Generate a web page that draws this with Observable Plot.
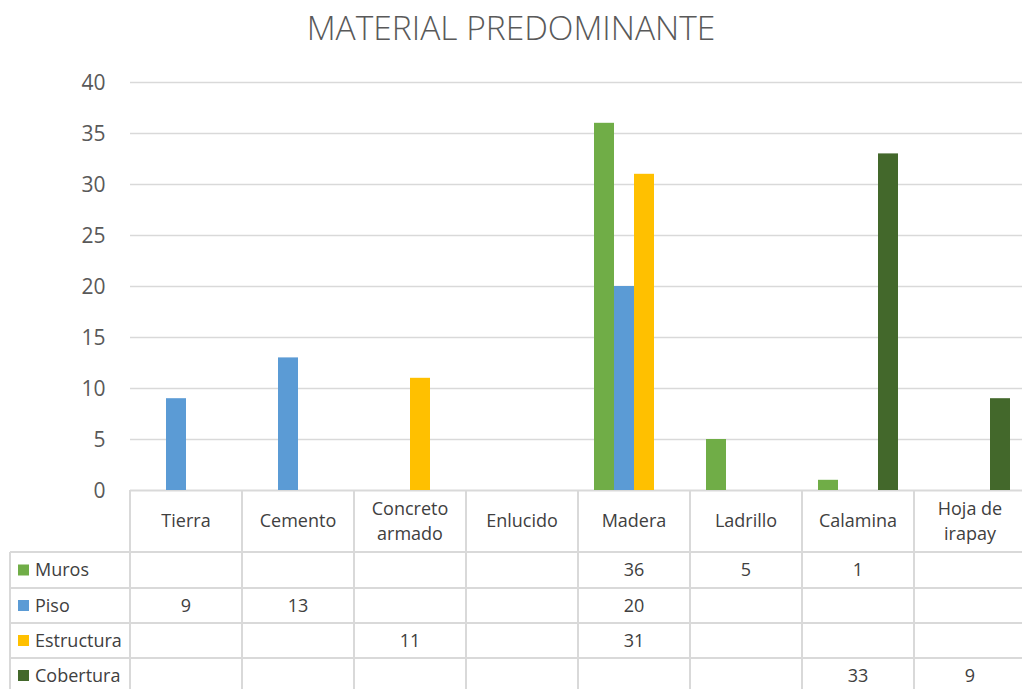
<!DOCTYPE html>
<html><head><meta charset="utf-8">
<script src="https://cdn.jsdelivr.net/npm/d3@7"></script>
<script src="https://cdn.jsdelivr.net/npm/@observablehq/plot@0.6"></script>
<style>
html,body{margin:0;padding:0;background:#fff;overflow:hidden;}
#wrap{position:relative;width:1022px;height:689px;overflow:hidden;font-family:"Open Sans",sans-serif;}
#title{position:absolute;left:0;top:11px;width:1022px;text-align:center;font-size:33.5px;line-height:32px;font-weight:300;color:#595959;white-space:nowrap;}
#chart{position:absolute;left:0;top:0;width:1026px;}
#chart svg{max-width:none !important;}
#table{position:absolute;left:0;top:0;}
</style>
</head><body>
<div id="wrap"><div id="chart"></div><div id="table"></div><div id="title">MATERIAL PREDOMINANTE</div></div>
<script>
const categories = ["Tierra","Cemento","Concreto armado","Enlucido","Madera","Ladrillo","Calamina","Hoja de irapay"];
const headerLabels = ["Tierra","Cemento","Concreto\narmado","Enlucido","Madera","Ladrillo","Calamina","Hoja de\nirapay"];
const seriesNames = ["Muros","Piso","Estructura","Cobertura"];
const seriesColors = ["#70AD47","#5B9BD5","#FFC000","#43682B"];
const muros      = [null,null,null,null,36,5,1,null];
const piso       = [9,13,null,null,20,null,null,null];
const estructura = [null,null,11,null,31,null,null,null];
const cobertura  = [null,null,null,null,null,null,33,9];
const yTicks = [0,5,10,15,20,25,30,35,40];

const seriesValues = [muros, piso, estructura, cobertura];
const rows = seriesNames.flatMap((s, si) => categories.map((c, ci) => ({series: s, category: c, value: seriesValues[si][ci]})))
  .filter(d => d.value != null);

const W = 1026, PLOT_TOP = 82, AXIS_Y = 490, LEFT = 130;
const chart = Plot.plot({
  width: W, height: 552, marginTop: PLOT_TOP, marginBottom: 552 - AXIS_Y, marginLeft: LEFT, marginRight: 0,
  style: {fontFamily: '"Open Sans", sans-serif', fontSize: "21px", color: "#595959", background: "transparent", overflow: "visible", maxWidth: "none"},
  fx: {domain: categories, padding: 0, round: false, axis: null, label: null},
  x: {domain: seriesNames, paddingInner: 0, paddingOuter: 0.8, round: false, axis: null},
  y: {domain: [0, 40], axis: null},
  color: {domain: seriesNames, range: seriesColors},
  marks: [
    Plot.ruleY(categories, {fx: d => d, y: 0, stroke: "#d9d9d9", strokeWidth: 2}),
    Plot.gridY(yTicks.slice(1), {stroke: "#d9d9d9", strokeOpacity: 1, strokeWidth: 1.5}),
    Plot.axisY(yTicks, {tickSize: 0, tickPadding: 25, fontSize: 21, fill: "#595959", label: null, dy: 1}),
    Plot.barY(rows, {fx: "category", x: "series", y: "value", fill: "series"})
  ]
});
chart.style.maxWidth = "none";
document.getElementById("chart").appendChild(chart);

// data table, aligned with Plot's fx scale
let fxs = chart.scale("fx");
let bandLeft, bw;
if (fxs && fxs.apply) { bandLeft = c => fxs.apply(c); bw = fxs.bandwidth; }
else { const s = d3.scaleBand(categories, [LEFT, W]); bandLeft = c => s(c); bw = s.bandwidth(); }

const rowEdges = [552, 588, 623, 658, 693];
const line = "#d9d9d9";
const svg = d3.select("#table").append("svg").attr("width", 1022).attr("height", 689)
  .style("font-family", '"Open Sans", sans-serif').style("font-size", "18px");
rowEdges.forEach(y => svg.append("line").attr("x1", 10).attr("x2", W).attr("y1", y).attr("y2", y).attr("stroke", line).attr("stroke-width", 2));
svg.append("line").attr("x1", 10).attr("x2", 10).attr("y1", 552).attr("y2", 689).attr("stroke", line).attr("stroke-width", 2);
categories.forEach(c => {
  const x = bandLeft(c);
  svg.append("line").attr("x1", x).attr("x2", x).attr("y1", AXIS_Y).attr("y2", 689).attr("stroke", line).attr("stroke-width", 2);
});
categories.forEach((c, i) => {
  const lines = headerLabels[i].split("\n");
  const cx = bandLeft(c) + bw / 2, cy = (AXIS_Y + 552) / 2;
  const t = svg.append("text").attr("text-anchor", "middle").attr("fill", "#404040");
  lines.forEach((l, k) => t.append("tspan").attr("x", cx)
    .attr("y", cy + (k - (lines.length - 1) / 2) * 25).attr("dy", "0.35em").text(l));
});
seriesNames.forEach((s, si) => {
  const cy = (rowEdges[si] + rowEdges[si + 1]) / 2;
  svg.append("rect").attr("x", 18).attr("y", cy - 5.5).attr("width", 11).attr("height", 11).attr("fill", seriesColors[si]);
  svg.append("text").attr("x", 35).attr("y", cy).attr("dy", "0.35em").attr("fill", "#404040").text(s);
  categories.forEach((c, ci) => {
    const v = seriesValues[si][ci];
    if (v == null) return;
    svg.append("text").attr("x", bandLeft(c) + bw / 2).attr("y", cy).attr("dy", "0.35em")
      .attr("text-anchor", "middle").attr("fill", "#404040").text(v);
  });
});
</script>
</body></html>
